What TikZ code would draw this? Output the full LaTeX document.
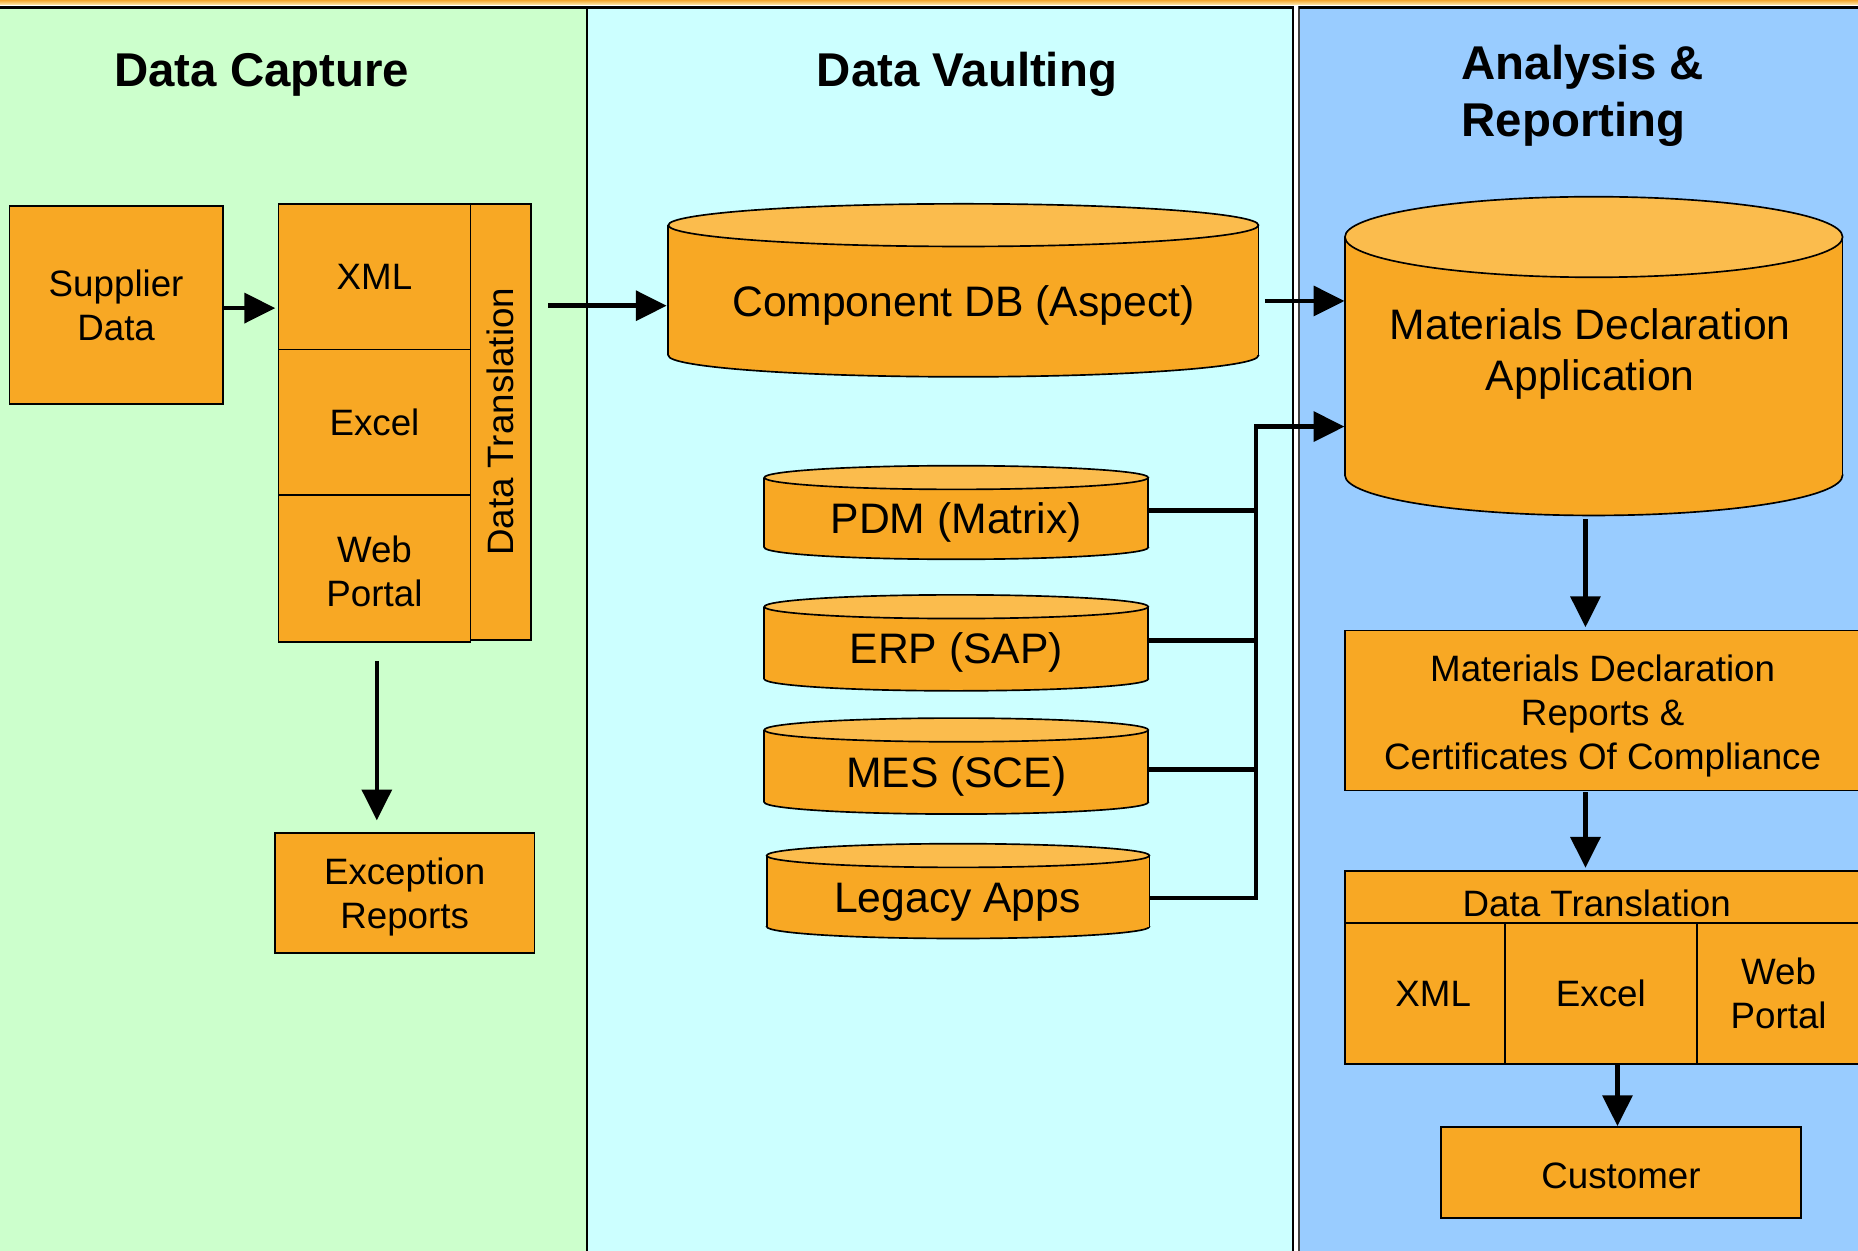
\documentclass[tikz,border=0pt]{standalone}
\usepackage{fontspec}
\setmainfont{Liberation Sans}
\usetikzlibrary{arrows.meta,calc}
\definecolor{boxor}{RGB}{248,168,36}
\definecolor{cyltop}{RGB}{251,188,77}
\definecolor{pgreen}{RGB}{204,255,204}
\definecolor{pcyan}{RGB}{204,255,255}
\definecolor{pblue}{RGB}{153,204,255}
\definecolor{gold1}{RGB}{243,166,48}
\definecolor{gold2}{RGB}{253,226,160}
\tikzset{
  ttl/.style={font=\fontsize{20}{24}\selectfont\bfseries, inner sep=0pt},
  big/.style={font=\fontsize{18}{21.6}\selectfont, inner sep=0pt, align=center},
  nrm/.style={font=\fontsize{15.5}{18.6}\selectfont, align=center},
  box/.style={nrm, draw=black, fill=boxor, line width=0.7pt, inner sep=0pt, text depth=0pt},
  cylnode/.style={draw=none, inner sep=0pt},
  cylbody/.style={fill=boxor, draw=black, line width=0.7pt},
  cylline/.style={draw=black, line width=0.7pt},
  cyltopst/.style={fill=cyltop, draw=black, line width=0.7pt},
  arr/.style={line width=1.9pt, -{Triangle[length=13pt,width=12.5pt]}},
  busline/.style={line width=1.9pt},
  panel/.style={draw=black, line width=0.85pt}
}
\newcommand\boxat[6]{%
  \pgfmathsetmacro\bxc{(#2+#4)/2}%
  \pgfmathsetmacro\byc{(#3+#5)/2}%
  \pgfmathsetmacro\bxw{(#4-#2)*0.5}%
  \pgfmathsetmacro\byh{(#5-#3)*0.5}%
  \node[box, minimum width=\bxw pt, minimum height=\byh pt] (#1) at (\bxc,\byc) {#6};%
}
\newcommand\cylat[6]{%
  \pgfmathsetmacro\cyxc{(#2+#3)/2}%
  \pgfmathsetmacro\cyrx{(#3-#2)/2}%
  \pgfmathsetmacro\cyya{#4+#6}%
  \pgfmathsetmacro\cyyb{#5-#6}%
  \pgfmathsetmacro\cyyc{(#4+#5)/2}%
  \pgfmathsetmacro\cyw{(#3-#2)*0.5}%
  \pgfmathsetmacro\cyh{(#5-#4)*0.5}%
  \path[cylbody] (\cyxc,\cyyb) ellipse[x radius=\cyrx, y radius=#6];%
  \path[fill=boxor] (#2,\cyya) rectangle (#3,\cyyb);%
  \draw[cylline] (#2,\cyya) -- (#2,\cyyb) (#3,\cyya) -- (#3,\cyyb);%
  \path[cyltopst] (\cyxc,\cyya) ellipse[x radius=\cyrx, y radius=#6];%
  \node[cylnode, minimum width=\cyw pt, minimum height=\cyh pt] (#1) at (\cyxc,\cyyc) {};%
}
\begin{document}
\begin{tikzpicture}[x=0.5pt,y=-0.5pt]
\useasboundingbox (0,0) rectangle (1568,1055);
\fill[white] (0,0) rectangle (1568,1055);
\shade[top color=gold1, bottom color=gold2] (0,0) rectangle (1568,3.6);
% panels
\draw[panel, fill=pgreen] (-3,6.3) rectangle (495,1060);
\draw[panel, fill=pcyan] (495,6.3) rectangle (1091.5,1060);
\draw[panel, draw=black!75, fill=pblue] (1096,6.3) rectangle (1573,1060);
\draw[line width=0.95pt] (0,6.3) -- (1091.5,6.3) (1096,6.3) -- (1568,6.3);
% titles
\node[ttl, anchor=base] (t1) at (221,73) {Data Capture};
\node[ttl, anchor=base] (t2) at (816,73) {Data Vaulting};
\node[ttl, anchor=north west, align=left] (t3) at (1233,38) {Analysis \&\\Reporting};
% data capture
\boxat{sup}{8}{174}{188}{341}{Supplier\\Data}
\boxat{xml}{235}{172}{397}{295}{XML}
\boxat{exc}{235}{295}{397}{418}{Excel}
\boxat{web}{235}{418}{397}{542}{\rule{0pt}{13pt}Web\\Portal}
\node[box, rotate=90, minimum width=184pt, minimum height=25.5pt] (dtl) at (422.5,356) {Data Translation};
\boxat{exr}{232}{703}{451}{804}{Exception\\Reports}
% data vaulting
\cylat{cdb}{564}{1062}{172}{318}{18}
\node[big] (cdbt) at (813,258) {Component DB (Aspect)};
\cylat{pdm}{645}{969}{393}{472}{10}
\node[big] (pdmt) at (807,441) {PDM (Matrix)};
\cylat{erp}{645}{969}{502}{583}{10}
\node[big] (erpt) at (807,551) {ERP (SAP)};
\cylat{mes}{645}{969}{606}{687}{10}
\node[big] (mest) at (807,655.5) {MES (SCE)};
\cylat{leg}{647}{970}{712}{792}{10}
\node[big] (legt) at (808,761) {Legacy Apps};
% analysis
\cylat{mda}{1135}{1555}{166}{435}{34}
\node[big] (mdat) at (1342,299) {Materials Declaration\\Application};
\boxat{rep}{1135}{532}{1570}{667}{\rule{0pt}{13pt}Materials Declaration\\Reports \&\\Certificates Of Compliance}
\boxat{dth}{1135}{735}{1570}{779}{\rule{0pt}{16.3pt}Data Translation\hspace*{5pt}}
\boxat{dx}{1135}{779}{1270}{898}{\hspace*{7pt}XML}
\boxat{de}{1270}{779}{1432}{898}{Excel}
\boxat{dw}{1432}{779}{1570}{898}{Web\\Portal}
\boxat{cust}{1216}{951}{1520}{1028}{\rule{0pt}{13.3pt}Customer}
% connectors
\coordinate (jn) at (1060,360);
\coordinate (ax) at (1338,0);
\draw[arr] ($(sup.east)+(0,2.5)$) -- ($(sup.east -| xml.west)+(-2,2.5)$);
\draw[arr] ($(web.south)+(2,15)$) -- ($(web.south |- exr.north)+(2,-10)$);
\draw[arr] ($(dtl.south |- cdb.west)+(14,13)$) -- ($(cdb.west)+(-1,13)$);
\draw[arr] ($(cdb.east)+(5,9)$) -- ($(cdb.east -| mda.west)+(0,9)$);
\draw[busline] ($(pdm.east)+(0,-1.5)$) -- ($(pdm.east -| jn)+(0,-1.5)$);
\draw[busline] ($(erp.east)+(0,-2)$) -- ($(erp.east -| jn)+(0,-2)$);
\draw[busline] ($(mes.east)+(0,3)$) -- ($(mes.east -| jn)+(0,3)$);
\draw[arr] ($(leg.east)+(0,6)$) -- ($(leg.east -| jn)+(0,6)$) -- (jn) -- (jn -| mda.west);
\draw[arr] ($(mda.south -| ax)+(0,3)$) -- ($(rep.north -| ax)+(0,-2)$);
\draw[arr] ($(rep.south -| ax)+(0,1)$) -- ($(dth.north -| ax)+(0,-2)$);
\draw[arr] ($(de.south -| cust.north)+(-3,0)$) -- ($(cust.north)+(-3,0)$);
\end{tikzpicture}
\end{document}
